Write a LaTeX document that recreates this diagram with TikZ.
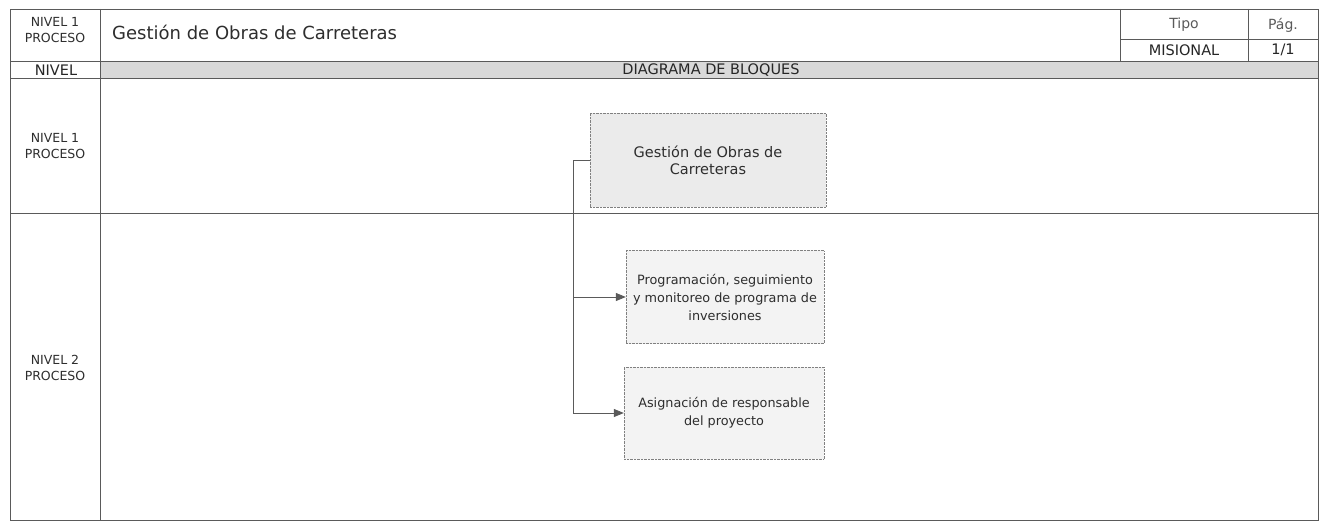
\documentclass[tikz,border=0pt]{standalone}
\usepackage{fontspec}
\setmainfont{DejaVu Sans}
\usetikzlibrary{arrows.meta}
\definecolor{linegray}{HTML}{5A5A5A}
\definecolor{bandgray}{HTML}{D9D9D9}
\definecolor{topfill}{HTML}{EBEBEB}
\definecolor{subfill}{HTML}{F3F3F3}
\definecolor{inkgray}{HTML}{2E2E2E}
\tikzset{
    lbl/.style={font=\fontsize{12.5}{16}\selectfont, align=center, text=inkgray, inner sep=0pt},
    cell/.style={lbl, font=\fontsize{14}{16}\selectfont},
    darkcell/.style={lbl, font=\fontsize{14.5}{16}\selectfont, text=black!85},
    blk/.style={draw=gray, densely dotted, text=inkgray, align=center,
        font=\fontsize{12.8}{18}\selectfont},
    tip/.style={-{Triangle[length=10pt,width=8pt]}},
}

\begin{document}
\begin{tikzpicture}[x=1pt,y=-1pt]
    \useasboundingbox [fill=white] (0,0) rectangle (1324,529);
    \fill [bandgray] (100,61) rectangle (1318,78);
    \begin{scope}[draw=linegray, line width=0.7pt]
    \draw [-] (10,9) rectangle (1318,520);
    \draw [-] (100,9) to (100,520);
    \draw [-] (10,61) to (1318,61);
    \draw [-] (10,78) to (1318,78);
    \draw [-] (10,213) to (1318,213);
    \draw [-] (1120,9) to (1120,61);
    \draw [-] (1248,9) to (1248,61);
    \draw [-] (1120,39) to (1318,39);
    \end{scope}
    \node (head_lvl) [lbl] at (55,30) {NIVEL 1\\PROCESO};
    \node (title) [anchor=west, text=inkgray, inner sep=0pt, font=\fontsize{18}{21}\selectfont] at (112,32) {Gestión de Obras de Carreteras};
    \node (tipo) [cell, text=linegray] at (1184,25) {Tipo};
    \node (pag) [cell, text=linegray] at (1283,25) {Pág.};
    \node (misional) [darkcell] at (1184,50) {MISIONAL};
    \node (page_no) [darkcell] at (1283,50) {1/1};
    \node (nivel) [darkcell] at (56,70) {NIVEL};
    \node (diag) [darkcell] at (711,70) {DIAGRAMA DE BLOQUES};
    \node (row_one) [lbl] at (55,146) {NIVEL 1\\PROCESO};
    \node (row_two) [lbl] at (55,368) {NIVEL 2\\PROCESO};
    % blocks
    \node (gestion) [blk, fill=topfill, minimum width=236pt, minimum height=94pt, font=\fontsize{14.5}{17}\selectfont] at (708,160) {Gestión de Obras de\\Carreteras};
    \node (prog) [blk, fill=subfill, minimum width=198pt, minimum height=93pt] at (725,297) {Programación, seguimiento\\y monitoreo de programa de\\inversiones};
    \node (asig) [blk, fill=subfill, minimum width=200pt, minimum height=92pt] at (724,413) {Asignación de responsable\\del proyecto};
    \coordinate (trunk) at (573,160);
    \draw [linegray, line width=0.8pt] (gestion.west) to (trunk) to (trunk |- asig.west);
    \draw [linegray, line width=0.8pt, tip] (trunk |- prog.west) to (prog.west);
    \draw [linegray, line width=0.8pt, tip] (trunk |- asig.west) to (asig.west);
\end{tikzpicture}
\end{document}
